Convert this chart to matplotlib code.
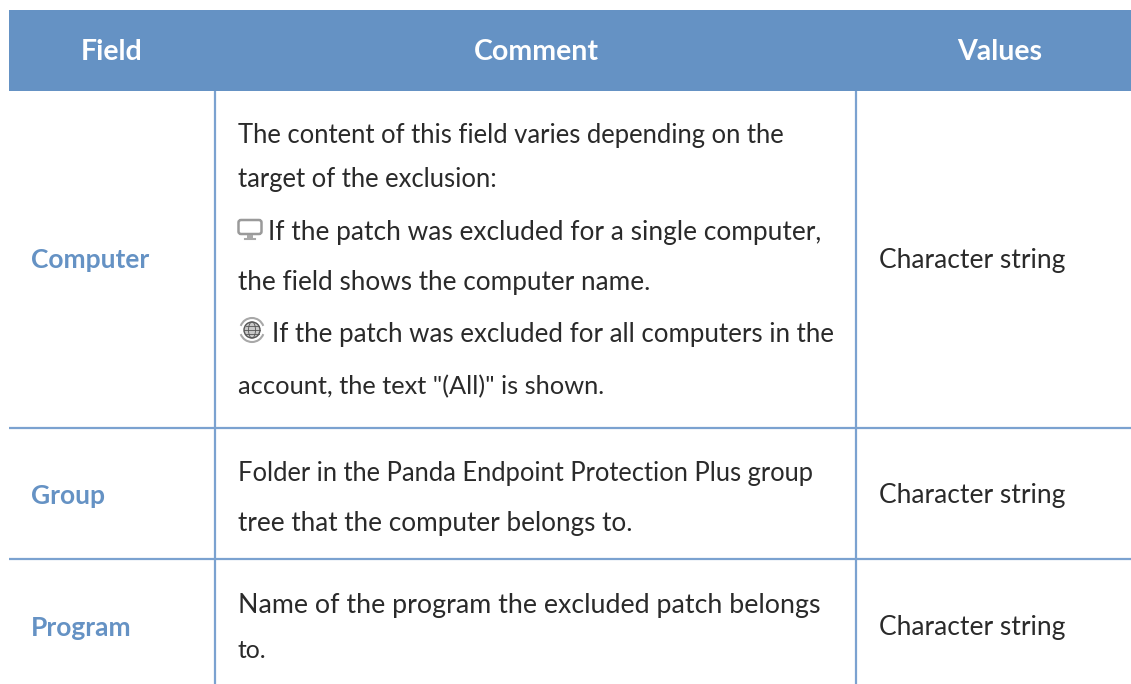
import matplotlib
matplotlib.use("Agg")
import matplotlib.pyplot as plt
from matplotlib.patches import Rectangle, Circle, FancyBboxPatch, Arc, Ellipse

plt.rcParams['font.family'] = ['Lato', 'DejaVu Sans']

W, H = 1131, 684
HEADER = "#6592c4"
LINE = "#7ba2d0"
BLUE = "#6592c4"
TEXT = "#2a2a2a"

headers = ["Field", "Comment", "Values"]
fields = ["Computer", "Group", "Program"]
values = ["Character string", "Character string", "Character string"]
comment_lines = [
    "The content of this field varies depending on the",
    "target of the exclusion:",
    "If the patch was excluded for a single computer,",
    "the field shows the computer name.",
    "If the patch was excluded for all computers in the",
    "account, the text \"(All)\" is shown.",
    "Folder in the Panda Endpoint Protection Plus group",
    "tree that the computer belongs to.",
    "Name of the program the excluded patch belongs",
    "to.",
]

# layout, pixels of the picture
header_x = [112, 536, 1000]
field_y = [268, 504, 636]
value_y = [268, 503, 635]
comment_x = [238, 238, 268, 238, 272, 238, 238, 238, 238, 238]
comment_end = [785, 498, 820, 650, 834, 606, 815, 634, 820, 267]
comment_y = [143, 187, 240, 290, 342, 394, 481, 531, 613, 658]

fig = plt.figure(figsize=(W / 100, H / 100), dpi=100)
ax = fig.add_axes([0, 0, 1, 1])
ax.set_xlim(0, W)
ax.set_ylim(H, 0)
ax.axis("off")

ax.add_patch(Rectangle((9, 10), 1122, 81, color=HEADER, lw=0))
for x, t in zip(header_x, headers):
    ax.text(x, 60, t, color="white", fontsize=20.5, fontweight="bold", ha="center", va="baseline")

# table lines
for x in [215, 856]:
    ax.plot([x, x], [91, 684], color=LINE, lw=1.6, solid_capstyle="butt")
for y in [428, 559]:
    ax.plot([9, 1131], [y, y], color=LINE, lw=1.6, solid_capstyle="butt")

for t, y in zip(fields, field_y):
    ax.text(31, y, t, color=BLUE, fontsize=19, fontweight="bold", va="baseline")
for t, y in zip(values, value_y):
    ax.text(879, y, t, color=TEXT, fontsize=19, va="baseline")

# each comment line is sized so it ends where it ends in the picture
renderer = fig.canvas.get_renderer()
for t, x, x_end, y in zip(comment_lines, comment_x, comment_end, comment_y):
    txt = ax.text(x, y, t, color=TEXT, fontsize=19, va="baseline")
    width = txt.get_window_extent(renderer).width
    txt.set_fontsize(19 * (x_end - x) / width)

# small computer icon
ax.add_patch(FancyBboxPatch((238.5, 220), 23, 14, boxstyle="round,pad=0,rounding_size=2.5",
                            fill=False, ec="#9a9a9a", lw=1.8))
ax.add_patch(Rectangle((247, 235), 6, 3, color="#a8a8a8", lw=0))
ax.plot([245, 255], [238.5, 238.5], color="#a8a8a8", lw=1.5)

# globe icon
ax.add_patch(Circle((252, 330), 8, fc="#c8c8c8", ec="#555555", lw=1))
ax.add_patch(Ellipse((252, 330), 7, 16, fill=False, ec="#555555", lw=0.6))
ax.plot([244, 260], [330, 330], color="#555555", lw=0.6)
ax.plot([245.5, 258.5], [326, 326], color="#555555", lw=0.6)
ax.plot([245.5, 258.5], [334, 334], color="#555555", lw=0.6)
ax.add_patch(Arc((252, 330), 24, 24, theta1=200, theta2=340, color="#a8a8a8", lw=1.5))
ax.add_patch(Arc((252, 330), 24, 24, theta1=20, theta2=160, color="#a8a8a8", lw=1.5))

fig.savefig("out.png", dpi=100)
